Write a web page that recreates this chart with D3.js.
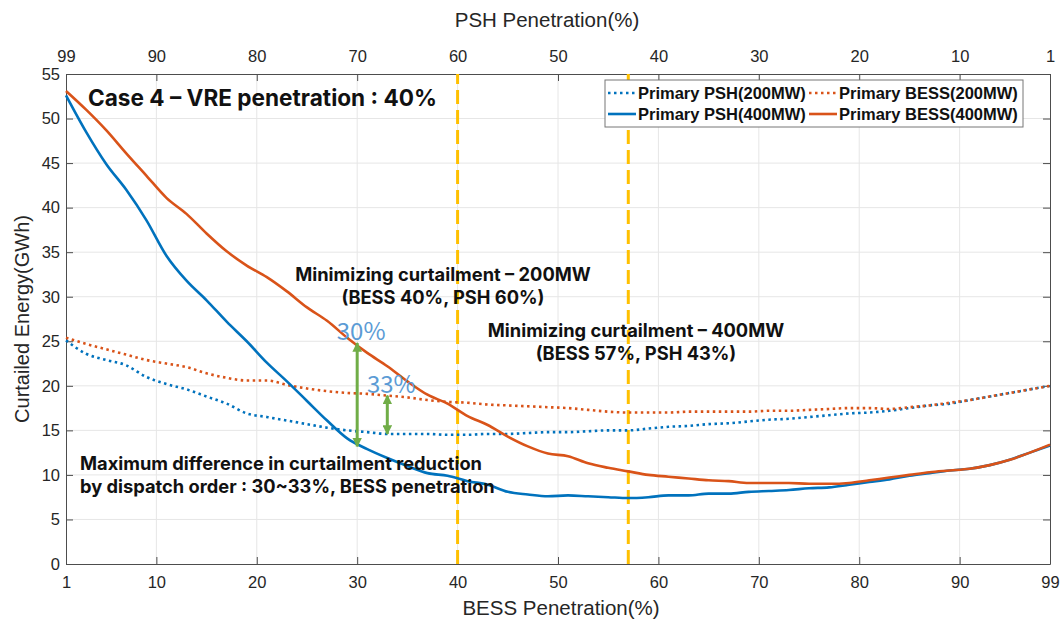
<!DOCTYPE html>
<html>
<head>
<meta charset="utf-8">
<script src="https://cdn.jsdelivr.net/npm/d3@7"></script>
<style>
  body { margin: 0; background: #fff; }
  svg { display: block; font-family: "Liberation Sans", Arial, sans-serif; }
  .grid line { stroke: #e6e6e6; }
  .axis path, .axis line { stroke: #4d4d4d; }
  .axis text { fill: #262626; font-size: 16.5px; }
  .note { font-family: Inter, "Noto Sans", sans-serif; font-weight: bold; fill: #111; }
</style>
</head>
<body>
<svg width="1064" height="627"></svg>
<script>
// BESS penetration (%) - PSH penetration is 100 - BESS
const bess = [1,3,5,7,9,11,13,15,17,19,21,23,25,27,29,31,33,35,37,39,41,43,45,47,49,
  51,53,55,57,59,61,63,65,67,69,71,73,75,77,79,81,83,85,87,89,91,93,95,97,99];

// Curtailed energy (GWh)
const psh200 = [25.1,23.6,22.9,22.3,21.0,20.2,19.6,18.8,18.0,16.9,16.5,16.1,15.7,15.3,15.0,14.8,14.6,14.6,14.6,14.5,
  14.5,14.6,14.6,14.7,14.8,14.8,14.9,15.0,15.0,15.2,15.4,15.5,15.7,15.8,16.0,16.2,16.3,16.5,16.7,16.9,
  17.0,17.2,17.5,17.8,18.0,18.4,18.8,19.2,19.6,20.0];
const bess200 = [25.4,24.7,24.1,23.5,22.9,22.5,22.1,21.4,20.9,20.6,20.6,20.1,19.7,19.4,19.2,19.1,18.9,18.7,18.4,18.2,
  18.1,17.9,17.8,17.7,17.6,17.5,17.3,17.1,17.0,17.0,17.0,17.1,17.1,17.1,17.1,17.2,17.2,17.3,17.4,17.5,
  17.5,17.4,17.6,17.8,18.1,18.4,18.8,19.2,19.6,20.0];
const psh400 = [52.6,48.5,44.9,42.0,38.6,34.6,31.8,29.6,27.2,25.0,22.6,20.5,18.3,16.1,14.1,12.9,11.9,11.0,10.2,9.9,
  9.3,8.9,8.1,7.8,7.6,7.7,7.6,7.5,7.4,7.5,7.7,7.7,7.9,7.9,8.1,8.2,8.3,8.5,8.6,8.9,
  9.2,9.5,9.9,10.2,10.5,10.7,11.1,11.7,12.5,13.3];
const bess400 = [53.1,51.0,48.7,46.1,43.6,41.1,39.3,37.1,35.1,33.5,32.2,30.6,28.8,27.3,25.4,23.7,22.2,20.5,19.0,18.0,
  16.6,15.6,14.3,13.2,12.4,12.1,11.3,10.8,10.4,10.0,9.8,9.6,9.4,9.3,9.1,9.1,9.1,9.0,9.0,9.1,
  9.4,9.7,10.0,10.3,10.5,10.7,11.1,11.7,12.5,13.4];

const seriesNames = ['Primary PSH(200MW)', 'Primary BESS(200MW)', 'Primary PSH(400MW)', 'Primary BESS(400MW)'];
const bottomTicks = [1,10,20,30,40,50,60,70,80,90,99];
const topTicks = [99,90,80,70,60,50,40,30,20,10,1];
const yTicks = [0,5,10,15,20,25,30,35,40,45,50,55];
const optimumBess = [40, 57];

const blue = '#0072BD', orange = '#D95319';

const svg = d3.select('svg');
const x = d3.scaleLinear().domain([1, 99]).range([66, 1050]);
const xTop = d3.scaleLinear().domain([99, 1]).range([66, 1050]);
const y = d3.scaleLinear().domain([0, 55]).range([564, 74]);

// grid
svg.append('g').attr('class', 'grid')
  .selectAll('line').data(bottomTicks.slice(1, -1)).join('line')
  .attr('x1', d => x(d)).attr('x2', d => x(d)).attr('y1', y(0)).attr('y2', y(55));
svg.append('g').attr('class', 'grid')
  .selectAll('line').data(yTicks.slice(1, -1)).join('line')
  .attr('x1', x(1)).attr('x2', x(99)).attr('y1', d => y(d)).attr('y2', d => y(d));

// axes (ticks point inwards like MATLAB)
const tk = 7;
svg.append('g').attr('class', 'axis').attr('transform', `translate(0,${y(0)})`)
  .call(d3.axisBottom(x).tickValues(bottomTicks).tickSizeInner(-tk).tickSizeOuter(0).tickPadding(12));
svg.append('g').attr('class', 'axis').attr('transform', `translate(0,${y(55)})`)
  .call(d3.axisTop(xTop).tickValues(topTicks).tickSizeInner(-tk).tickSizeOuter(0).tickPadding(12));
svg.append('g').attr('class', 'axis').attr('transform', `translate(${x(1)},0)`)
  .call(d3.axisLeft(y).tickValues(yTicks).tickSizeInner(-tk).tickSizeOuter(0).tickPadding(6));
svg.append('g').attr('class', 'axis').attr('transform', `translate(${x(99)},0)`)
  .call(d3.axisRight(y).tickValues(yTicks).tickSizeInner(-tk).tickSizeOuter(0).tickFormat(''));

// axis labels
svg.append('text').attr('x', 561).attr('y', 615).attr('text-anchor', 'middle')
  .style('font-size', '20.5px').attr('fill', '#262626').text('BESS Penetration(%)');
svg.append('text').attr('x', 547).attr('y', 27).attr('text-anchor', 'middle')
  .style('font-size', '20.5px').attr('fill', '#262626').text('PSH Penetration(%)');
svg.append('text').attr('transform', `translate(29,${(y(0) + y(55)) / 2}) rotate(-90)`)
  .attr('text-anchor', 'middle').style('font-size', '20px').attr('fill', '#262626')
  .text('Curtailed Energy(GWh)');

// optimum markers
svg.append('g').selectAll('line').data(optimumBess).join('line')
  .attr('x1', d => x(d)).attr('x2', d => x(d)).attr('y1', y(0)).attr('y2', y(55))
  .attr('stroke', '#FFC000').attr('stroke-width', 3).attr('stroke-dasharray', '14,6');

// series
const series = [
  { name: seriesNames[0], values: psh200, color: blue, dash: '2.5,3.5' },
  { name: seriesNames[1], values: bess200, color: orange, dash: '2.5,3.5' },
  { name: seriesNames[2], values: psh400, color: blue, dash: null },
  { name: seriesNames[3], values: bess400, color: orange, dash: null }
];
const line = d3.line().x((d, i) => x(bess[i])).y(d => y(d)).curve(d3.curveMonotoneX);
svg.append('g').selectAll('path').data(series).join('path')
  .attr('d', d => line(d.values))
  .attr('fill', 'none').attr('stroke', d => d.color).attr('stroke-width', 2.6)
  .attr('stroke-dasharray', d => d.dash);

// difference arrows
const arrows = [
  { b: 30, top: bess400[bess.indexOf(29)] - 0.6, bottom: psh400[bess.indexOf(29)] - 0.9, label: '30%' },
  { b: 33, top: bess200[bess.indexOf(33)], bottom: psh200[bess.indexOf(33)], label: '33%' }
];
const defs = svg.append('defs');
defs.append('marker').attr('id', 'ah').attr('viewBox', '0 0 10 10').attr('refX', 9).attr('refY', 5)
  .attr('markerWidth', 3.2).attr('markerHeight', 3.2).attr('orient', 'auto-start-reverse')
  .append('path').attr('d', 'M0,0 L10,5 L0,10 z').attr('fill', '#70AD47');
svg.append('g').selectAll('line').data(arrows).join('line')
  .attr('x1', d => x(d.b)).attr('x2', d => x(d.b))
  .attr('y1', d => y(d.top)).attr('y2', d => y(d.bottom))
  .attr('stroke', '#70AD47').attr('stroke-width', 3)
  .attr('marker-start', 'url(#ah)').attr('marker-end', 'url(#ah)');
svg.append('g').selectAll('text').data(arrows).join('text')
  .attr('x', d => x(d.b) + 4).attr('y', d => y(d.top) - 3).attr('text-anchor', 'middle')
  .style('font-family', '"Noto Sans CJK KR", sans-serif').style('font-size', '24px')
  .style('fill', '#5B9BD5').text(d => d.label);

// notes (multi-line notes are one text element with tspans)
const notes = [
  { x: 88, y: 106, size: 22.6, anchor: 'start', lines: ['Case 4 \u2013 VRE penetration : 40%'] },
  { x: 443, y: 281, size: 18.3, anchor: 'middle', lines: ['Minimizing curtailment \u2013 200MW', '(BESS 40%, PSH 60%)'] },
  { x: 636, y: 337, size: 18.3, anchor: 'middle', lines: ['Minimizing curtailment \u2013 400MW', '(BESS 57%, PSH 43%)'] },
  { x: 80, y: 470, size: 18.3, anchor: 'start', lines: ['Maximum difference in curtailment reduction', 'by dispatch order : 30~33%, BESS penetration'] }
];
svg.append('g').selectAll('text').data(notes).join('text')
  .attr('class', 'note').attr('x', d => d.x).attr('y', d => d.y)
  .attr('text-anchor', d => d.anchor).style('font-size', d => d.size + 'px')
  .each(function (d) {
    d3.select(this).selectAll('tspan').data(d.lines).join('tspan')
      .attr('x', d.x).attr('dy', (l, i) => i ? 23 : 0).text(l => l);
  });

// legend
const lg = svg.append('g').attr('transform', 'translate(605,80)');
lg.append('rect').attr('width', 418).attr('height', 47).attr('fill', '#fff').attr('stroke', '#777');
const cols = [0, 201];
lg.selectAll('g').data(series).join('g')
  .attr('transform', (d, i) => `translate(${cols[i % 2] + 3},${i < 2 ? 13 : 34})`)
  .each(function (d) {
    const g = d3.select(this);
    g.append('line').attr('x1', 0).attr('x2', 28).attr('stroke', d.color).attr('stroke-width', 2.6)
      .attr('stroke-dasharray', d.dash);
    g.append('text').attr('x', 30).attr('y', 6).style('font-size', '16.5px').style('font-weight', 'bold')
      .attr('fill', '#111').text(d.name);
  });
</script>
</body>
</html>
